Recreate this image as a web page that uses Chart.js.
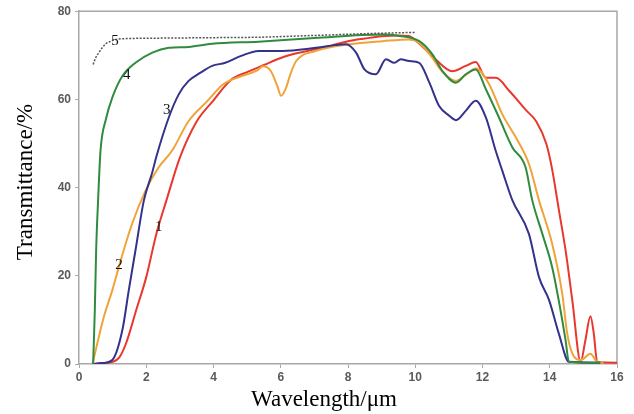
<!DOCTYPE html>
<html>
<head>
<meta charset="utf-8">
<script src="https://cdn.jsdelivr.net/npm/chart.js@4/dist/chart.umd.min.js"></script>
<style>
  html, body { margin: 0; padding: 0; background: #ffffff; }
  #wrap { width: 634px; height: 414px; }
</style>
</head>
<body>
<div id="wrap"><canvas id="c" width="634" height="414"></canvas></div>
<script>
// ---- data (wavelength in µm, transmittance in %) ----
const xTicks = [0, 2, 4, 6, 8, 10, 12, 14, 16];
const yTicks = [0, 20, 40, 60, 80];

const s1x = [0.4, 0.7, 1.0, 1.2, 1.4, 1.7, 2.0, 2.3, 2.6, 3.0, 3.5, 4.0, 4.5, 5.0, 5.5, 6.0, 6.5, 7.0, 7.5, 8.0, 8.5, 9.0, 9.5, 9.8, 10.1, 10.6, 11.1, 11.5, 11.8, 12.1, 12.4, 12.8, 13.3, 13.6, 13.9, 14.07, 14.27, 14.47, 14.67, 14.92, 15.06, 15.21, 15.31, 15.41, 16.0];
const s1y = [0, 0.2, 0.5, 1.5, 4.7, 12.2, 19.7, 29.5, 37.1, 46.8, 55.0, 59.8, 64.3, 66.2, 67.8, 69.4, 70.5, 71.3, 72.2, 73.2, 73.8, 74.3, 74.5, 74.4, 72.8, 69.1, 66.4, 67.6, 68.5, 64.9, 64.9, 61.9, 57.5, 55.0, 49.9, 44.2, 35.0, 25.8, 14.5, 0.5, 5.4, 10.8, 6.9, 0.5, 0.3];

const s2x = [0.4, 0.74, 0.99, 1.24, 1.58, 1.98, 2.37, 2.77, 3.26, 3.8, 4.3, 4.8, 5.3, 5.47, 5.7, 5.9, 6.01, 6.15, 6.3, 6.46, 7.05, 8.04, 9.03, 9.82, 10.12, 10.5, 10.81, 11.21, 11.5, 11.8, 12.2, 12.59, 12.99, 13.38, 13.68, 14.07, 14.37, 14.52, 14.67, 14.92, 15.21, 15.41, 15.6];
const s2y = [0, 10.7, 16.7, 23.5, 31.8, 39.3, 44.6, 48.4, 55.1, 59.5, 63.5, 65.2, 66.6, 67.5, 66.5, 63.0, 60.8, 62.5, 66.0, 68.7, 71.0, 72.5, 73.2, 73.6, 72.8, 69.5, 66.2, 64.2, 65.5, 67.0, 63.4, 56.6, 51.4, 45.4, 37.1, 27.3, 16.0, 6.9, 2.4, 0.9, 2.3, 0.5, 0.3];

const s3x = [0.4, 0.7, 0.99, 1.29, 1.48, 1.68, 1.93, 2.18, 2.3, 2.67, 2.97, 3.26, 3.6, 3.96, 4.35, 4.8, 5.34, 6.06, 7.05, 7.94, 8.24, 8.49, 8.83, 9.13, 9.38, 9.57, 9.82, 10.12, 10.42, 10.71, 11.01, 11.21, 11.5, 11.8, 12.1, 12.39, 12.59, 12.89, 13.38, 13.68, 13.98, 14.27, 14.57, 15.5];
const s3y = [0, 0.2, 0.9, 7.7, 16.7, 25.8, 37.1, 43.5, 47.0, 55.9, 61.2, 64.2, 66.0, 67.6, 68.3, 69.8, 71.0, 71.0, 71.7, 72.5, 70.6, 66.8, 65.7, 69.1, 68.3, 69.1, 68.7, 68.3, 63.8, 58.5, 56.3, 55.3, 57.4, 59.7, 55.9, 48.4, 43.8, 37.1, 29.5, 19.7, 14.5, 6.9, 0.5, 0.3];

const s4x = [0.42, 0.47, 0.51, 0.57, 0.64, 0.8, 0.99, 1.29, 1.68, 2.18, 2.67, 3.26, 3.96, 5.34, 7.0, 9.03, 9.53, 10.12, 10.51, 10.81, 11.21, 11.5, 11.8, 12.1, 12.49, 12.89, 13.28, 13.48, 13.78, 14.07, 14.32, 14.47, 14.57, 15.5];
const s4y = [0, 12.0, 25.8, 37.5, 48.4, 55.5, 60.4, 65.3, 68.3, 70.6, 71.7, 71.9, 72.6, 73.1, 73.9, 74.7, 74.4, 73.2, 70.2, 66.4, 63.8, 65.7, 66.8, 62.3, 55.9, 49.1, 44.6, 37.1, 29.5, 22.0, 12.2, 5.4, 0.5, 0.3];

const s5x = [0.42, 0.5, 0.59, 0.7, 0.79, 0.95, 1.09, 1.5, 2.5, 4.0, 5.34, 7.0, 8.5, 10.0];
const s5y = [67.9, 69.5, 70.6, 71.8, 72.6, 73.2, 73.6, 73.8, 73.9, 74.0, 74.1, 74.5, 74.9, 75.2];

const curveNames = ['1', '2', '3', '4', '5'];
const labelX = [2.37, 1.19, 2.61, 1.42, 1.07];
const labelY = [31.0, 22.4, 57.6, 65.5, 73.2];

const xTitle = 'Wavelength/\u03bcm';
const yTitle = 'Transmittance/%';

// ---- build ----
function pts(xs, ys) { return xs.map((x, i) => ({ x: x, y: ys[i] })); }

const colors = ['#e8372c', '#f0a338', '#33328c', '#2f8b3e', '#555555'];
const series = [[s1x, s1y], [s2x, s2y], [s3x, s3y], [s4x, s4y], [s5x, s5y]];

const datasets = series.map((s, i) => ({
  label: curveNames[i],
  data: pts(s[0], s[1]),
  borderColor: colors[i],
  backgroundColor: colors[i],
  borderWidth: i === 4 ? 1.5 : 2,
  borderDash: i === 4 ? [2, 1.5] : [],
  pointRadius: 0,
  fill: false,
  cubicInterpolationMode: 'monotone',
  order: 5 - i
}));

const framePlugin = {
  id: 'frame',
  beforeDatasetsDraw(chart) {
    const { ctx, chartArea: a } = chart;
    ctx.save();
    ctx.strokeStyle = '#a8a8a8';
    ctx.lineWidth = 1.5;
    ctx.beginPath();
    ctx.moveTo(a.left, a.top);
    ctx.lineTo(a.right, a.top);
    ctx.lineTo(a.right, a.bottom);
    ctx.stroke();
    ctx.restore();
  },
  afterDatasetsDraw(chart) {
    const { ctx } = chart;
    const xs = chart.scales.x, ys = chart.scales.y;
    ctx.save();
    ctx.fillStyle = '#111';
    ctx.font = '15px "Liberation Serif", "Times New Roman", serif';
    ctx.textAlign = 'center';
    ctx.textBaseline = 'middle';
    curveNames.forEach((n, i) => {
      ctx.fillText(n, xs.getPixelForValue(labelX[i]), ys.getPixelForValue(labelY[i]));
    });
    // axis titles
    ctx.font = '23px "Liberation Serif", "Times New Roman", serif';
    ctx.fillStyle = '#000';
    ctx.textBaseline = 'alphabetic';
    ctx.fillText(xTitle, 324, 406);
    ctx.translate(32, 182);
    ctx.rotate(-Math.PI / 2);
    ctx.fillText(yTitle, 0, 0);
    ctx.restore();
  }
};

new Chart(document.getElementById('c'), {
  type: 'line',
  data: { datasets: datasets },
  options: {
    responsive: false,
    animation: false,
    layout: { padding: { left: 0, right: 17, top: 10, bottom: 0 } },
    plugins: { legend: { display: false }, tooltip: { enabled: false } },
    scales: {
      x: {
        type: 'linear',
        min: 0, max: 16,
        afterFit: s => { s.height = 50; },
        afterBuildTicks: s => { s.ticks = xTicks.map(v => ({ value: v })); },
        ticks: {
          color: '#5a5a5a',
          font: { family: '"Liberation Sans", Arial, sans-serif', size: 12, weight: 'bold' },
          padding: 2,
          maxRotation: 0
        },
        grid: { drawOnChartArea: false, drawTicks: true, tickLength: 4, color: '#a8a8a8', lineWidth: 1 },
        border: { display: true, color: '#a8a8a8', width: 1.5 }
      },
      y: {
        type: 'linear',
        min: 0, max: 80,
        afterFit: s => { s.width = 79; },
        afterBuildTicks: s => { s.ticks = yTicks.map(v => ({ value: v })); },
        ticks: {
          color: '#5a5a5a',
          font: { family: '"Liberation Sans", Arial, sans-serif', size: 12, weight: 'bold' },
          padding: 4
        },
        grid: { drawOnChartArea: false, drawTicks: true, tickLength: 4, color: '#a8a8a8', lineWidth: 1 },
        border: { display: true, color: '#a8a8a8', width: 1.5 }
      }
    }
  },
  plugins: [framePlugin]
});
</script>
</body>
</html>
